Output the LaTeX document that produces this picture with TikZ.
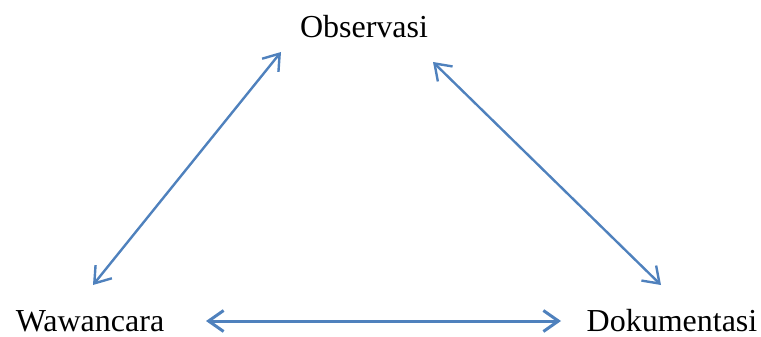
\documentclass[tikz,border=0pt]{standalone}
\usepackage{fontspec}
\setmainfont{Liberation Serif}
\usetikzlibrary{arrows.meta}
\definecolor{arrowblue}{RGB}{79,129,189}
\begin{document}
\begin{tikzpicture}[x=1pt,y=-1pt,
  lbl/.style={anchor=base,inner sep=0pt,font=\fontsize{32}{38}\selectfont},
  link/.style={draw=arrowblue,line width=2.4pt,{Straight Barb[length=15pt,width=21pt]}-{Straight Barb[length=15pt,width=21pt]}}]
\useasboundingbox (0,0) rectangle (761,337);
\node[lbl] (obs) at (364,38) {Observasi};
\node[lbl] (waw) at (90,331) {Wawancara};
\node[lbl] (dok) at (672,331) {Dokumentasi};
\coordinate (l1) at (93,285);
\coordinate (l2) at (281,52);
\coordinate (r1) at (433,62);
\coordinate (r2) at (661,285);
\coordinate (h1) at (206,321);
\coordinate (h2) at (561,321);
\draw[link] (l1) -- (l2);
\draw[link] (r1) -- (r2);
\draw[link,line width=3pt] (h1) -- (h2);
\end{tikzpicture}
\end{document}
